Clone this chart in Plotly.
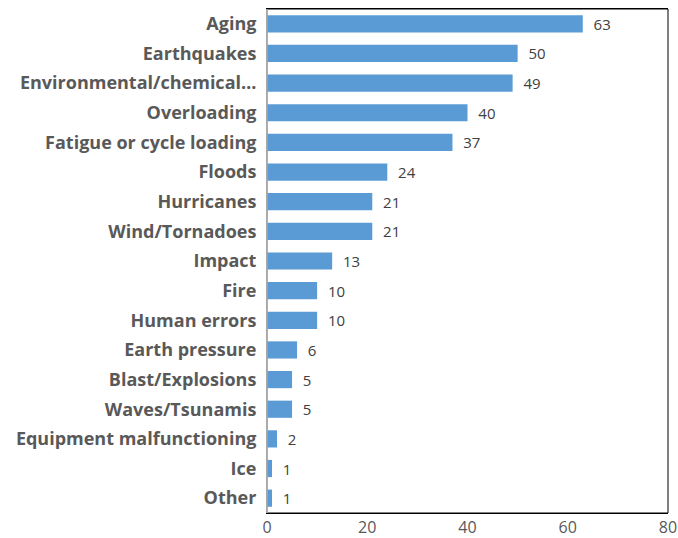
import plotly.graph_objects as go

causes = [
    "Aging", "Earthquakes", "Environmental/chemical…", "Overloading",
    "Fatigue or cycle loading", "Floods", "Hurricanes", "Wind/Tornadoes",
    "Impact", "Fire", "Human errors", "Earth pressure", "Blast/Explosions",
    "Waves/Tsunamis", "Equipment malfunctioning", "Ice", "Other",
]
counts = [63, 50, 49, 40, 37, 24, 21, 21, 13, 10, 10, 6, 5, 5, 2, 1, 1]
x_ticks = [0, 20, 40, 60, 80]

fig = go.Figure(
    go.Bar(
        x=counts,
        y=causes,
        orientation="h",
        marker=dict(color="#5B9BD5", line=dict(width=0)),
        texttemplate="  %{x}",
        textposition="outside",
        constraintext="none",
        textfont=dict(family="Open Sans", size=15, color="#404040"),
        cliponaxis=False,
    )
)

fig.update_layout(
    width=678,
    height=538,
    margin=dict(l=267, r=10, t=9, b=25, autoexpand=False),
    paper_bgcolor="white",
    plot_bgcolor="white",
    bargap=0.42,
    showlegend=False,
    uniformtext=dict(mode=False),
    xaxis=dict(
        range=[0, 80],
        tickvals=x_ticks,
        ticks="",
        showgrid=False,
        zeroline=False,
        automargin=False,
        tickfont=dict(family="Open Sans", size=16, color="#595959"),
        showline=True,
        linecolor="black",
        linewidth=1,
        mirror=True,
    ),
    yaxis=dict(
        autorange="reversed",
        showgrid=False,
        ticks="",
        automargin=False,
        tickfont=dict(family="Open Sans", size=18, color="#595959", weight="bold"),
        showline=True,
        linecolor="#BFBFBF",
        linewidth=1,
        ticklabelstandoff=6,
    ),
)

# black frame on the top/right/bottom of the plotting area
fig.add_shape(
    type="rect", xref="paper", yref="paper", x0=0, y0=0, x1=1, y1=1,
    line=dict(color="black", width=1), layer="above",
)
fig.add_shape(
    type="line", xref="paper", yref="paper", x0=0, y0=0, x1=0, y1=1,
    line=dict(color="#BFBFBF", width=1.5), layer="above",
)

fig.write_html("out.html")
